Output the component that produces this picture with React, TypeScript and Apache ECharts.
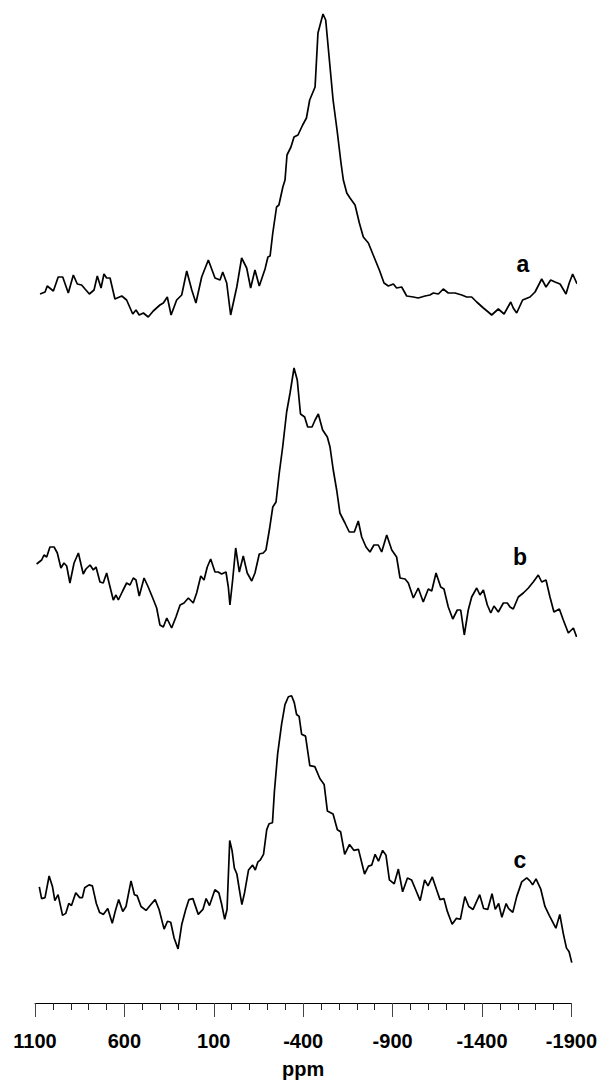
import React, { useEffect, useRef } from "react";
import * as echarts from "echarts";

// Chemical shift (ppm) and intensity (arbitrary units)
const ppmA = [1072, 1044, 1032, 998, 971, 946, 915, 887, 865, 841, 822, 798, 772, 754, 733, 717, 702, 683, 656, 618, 591, 557, 539, 521, 498, 471, 443, 406, 387, 365, 344, 313, 285, 257, 229, 206, 174, 137, 100, 72, 57, 35, 13, -21, -48, -76, -98, -122, -146, -178, -194, -206, -221, -242, -255, -277, -289, -300, -322, -339, -361, -387, -408, -426, -456, -472, -500, -515, -556, -578, -600, -613, -632, -650, -678, -702, -724, -752, -779, -813, -839, -863, -891, -909, -937, -965, -1002, -1029, -1067, -1094, -1113, -1141, -1168, -1196, -1233, -1271, -1298, -1326, -1354, -1391, -1418, -1437, -1474, -1506, -1543, -1557, -1576, -1609, -1650, -1678, -1715, -1739, -1765, -1789, -1817, -1850, -1868, -1887, -1909, -1918];
const intA = [26, 28, 34, 29, 43, 43, 27, 45, 36, 35, 31, 26, 30, 44, 32, 46, 42, 42, 21, 24, 20, 6, 10, 5, 7, 3, 9, 15, 17, 23, 5, 20, 25, 49, 30, 17, 43, 60, 42, 40, 48, 37, 5, 33, 62, 52, 32, 50, 34, 51, 63, 64, 87, 113, 115, 133, 140, 165, 173, 183, 185, 195, 202, 220, 233, 287, 306, 300, 220, 190, 157, 140, 127, 122, 115, 97, 83, 77, 65, 50, 37, 34, 36, 32, 33, 24, 23, 22, 24, 25, 27, 26, 31, 27, 27, 25, 23, 23, 18, 12, 8, 5, 11, 6, 18, 12, 7, 20, 23, 28, 41, 33, 40, 38, 36, 26, 37, 46, 37, 36];

const ppmB = [1091, 1063, 1050, 1035, 1017, 994, 976, 956, 939, 924, 906, 883, 859, 832, 817, 794, 776, 761, 739, 721, 702, 683, 665, 650, 637, 613, 591, 572, 554, 539, 521, 494, 471, 446, 424, 406, 387, 368, 341, 317, 294, 272, 248, 221, 202, 179, 161, 143, 124, 100, 82, 63, 39, 26, 17, 2, -15, -35, -57, -79, -104, -122, -146, -168, -183, -202, -221, -239, -257, -276, -298, -317, -339, -357, -375, -398, -415, -439, -456, -474, -498, -524, -539, -557, -576, -594, -622, -646, -674, -696, -715, -739, -761, -783, -807, -826, -854, -882, -909, -928, -956, -974, -1002, -1029, -1057, -1085, -1104, -1128, -1154, -1172, -1196, -1221, -1246, -1265, -1285, -1307, -1326, -1354, -1372, -1391, -1413, -1432, -1450, -1474, -1502, -1524, -1539, -1557, -1585, -1613, -1641, -1668, -1696, -1715, -1739, -1761, -1783, -1813, -1835, -1863, -1891, -1909];
const intB = [86, 90, 95, 93, 103, 103, 97, 82, 87, 84, 67, 87, 97, 76, 81, 85, 80, 83, 68, 67, 77, 63, 50, 55, 50, 59, 67, 65, 72, 70, 54, 72, 63, 52, 42, 25, 23, 32, 22, 33, 45, 47, 52, 47, 57, 74, 70, 83, 91, 78, 78, 76, 78, 63, 45, 70, 102, 78, 94, 77, 69, 77, 96, 97, 100, 120, 143, 148, 177, 203, 238, 257, 282, 270, 236, 233, 223, 223, 230, 236, 220, 213, 203, 180, 160, 137, 127, 118, 118, 129, 113, 103, 98, 105, 105, 98, 115, 100, 93, 72, 71, 67, 52, 62, 48, 61, 59, 77, 63, 61, 43, 31, 40, 40, 15, 40, 53, 62, 55, 60, 45, 37, 44, 38, 47, 47, 43, 41, 53, 57, 62, 68, 75, 68, 70, 53, 38, 41, 30, 17, 22, 13];

const ppmC = [1076, 1063, 1044, 1021, 1002, 989, 971, 946, 928, 911, 896, 872, 850, 835, 822, 798, 779, 757, 739, 717, 693, 668, 650, 632, 609, 591, 563, 544, 529, 507, 479, 452, 428, 406, 378, 359, 341, 322, 300, 279, 257, 239, 217, 187, 161, 143, 124, 94, 72, 57, 39, 26, 11, -2, -15, -29, -43, -57, -72, -94, -117, -132, -146, -159, -178, -196, -209, -228, -239, -257, -279, -298, -317, -335, -350, -363, -377, -391, -413, -437, -465, -493, -517, -535, -567, -591, -609, -632, -659, -683, -709, -743, -765, -783, -802, -821, -844, -863, -882, -909, -932, -956, -983, -1006, -1029, -1054, -1079, -1098, -1122, -1146, -1165, -1187, -1206, -1233, -1257, -1279, -1304, -1326, -1350, -1387, -1409, -1432, -1456, -1474, -1493, -1511, -1535, -1548, -1572, -1594, -1622, -1650, -1668, -1683, -1702, -1728, -1752, -1776, -1813, -1835, -1854, -1872, -1887, -1902];
const intC = [118, 106, 107, 129, 118, 104, 110, 89, 91, 101, 99, 112, 107, 107, 117, 120, 119, 101, 92, 90, 96, 81, 94, 105, 93, 98, 124, 110, 109, 98, 94, 100, 105, 95, 75, 83, 82, 66, 55, 80, 95, 105, 106, 90, 95, 106, 99, 115, 112, 101, 85, 95, 165, 155, 137, 131, 115, 100, 112, 135, 140, 135, 143, 145, 151, 176, 182, 183, 215, 253, 283, 303, 311, 312, 305, 293, 291, 273, 271, 241, 240, 228, 222, 195, 192, 176, 174, 151, 161, 155, 156, 131, 139, 140, 151, 144, 155, 150, 125, 121, 136, 113, 127, 125, 115, 104, 125, 119, 128, 115, 105, 106, 93, 80, 86, 85, 108, 98, 95, 110, 96, 95, 111, 95, 101, 87, 101, 96, 92, 108, 123, 127, 124, 120, 126, 116, 98, 89, 76, 90, 71, 56, 52, 41];

const traceLabels = ["a", "b", "c"];
const tickLabelMin = -1900;
const tickLabelMax = 1100;
const tickStep = 500;
const axisName = "ppm";

const FONT = "'Liberation Sans', Arial, Helvetica, sans-serif";

function pairs(xs: number[], ys: number[]) {
  return xs.map((x, i) => [x, ys[i]]);
}

export default function App() {
  const ref = useRef<HTMLDivElement>(null);
  useEffect(() => {
    if (!ref.current) return;
    const chart = echarts.init(ref.current, null, { renderer: "svg" });
    const grids = [
      { left: 35, width: 540, top: 10, height: 310 },
      { left: 35, width: 540, top: 330, height: 320 },
      { left: 35, width: 540, top: 680, height: 328 },
    ];
    const xAxisBase = {
      type: "value",
      min: tickLabelMin,
      max: tickLabelMax,
      inverse: true,
      interval: tickStep,
      splitLine: { show: false },
    };
    const option = {
      animation: false,
      backgroundColor: "#ffffff",
      grid: grids,
      xAxis: [
        { ...xAxisBase, gridIndex: 0, show: false },
        { ...xAxisBase, gridIndex: 1, show: false },
        {
          ...xAxisBase,
          gridIndex: 2,
          show: true,
          position: "bottom",
          name: axisName,
          nameLocation: "middle",
          nameGap: 56,
          nameTextStyle: { fontFamily: FONT, fontWeight: "bold", fontSize: 20, color: "#000" },
          axisLine: { show: true, lineStyle: { color: "#000", width: 1 } },
          axisTick: { show: true, length: 14, inside: false, lineStyle: { color: "#444", width: 1 } },
          minorTick: { show: true, splitNumber: 5, length: 7, lineStyle: { color: "#222", width: 1 } },
          minorSplitLine: { show: false },
          axisLabel: {
            show: true,
            margin: 28,
            showMinLabel: true,
            showMaxLabel: true,
            formatter: (v: number) => String(v),
            fontFamily: FONT,
            fontWeight: "bold",
            fontSize: 20,
            color: "#000",
          },
        },
      ],
      yAxis: [
        { type: "value", gridIndex: 0, min: 0, max: 310, show: false, splitLine: { show: false } },
        { type: "value", gridIndex: 1, min: 0, max: 320, show: false, splitLine: { show: false } },
        { type: "value", gridIndex: 2, min: 0, max: 328, show: false, splitLine: { show: false } },
      ],
      series: [
        [ppmA, intA],
        [ppmB, intB],
        [ppmC, intC],
      ].map(([xs, ys], i) => ({
        type: "line",
        name: traceLabels[i],
        xAxisIndex: i,
        yAxisIndex: i,
        data: pairs(xs, ys),
        showSymbol: false,
        symbol: "none",
        clip: false,
        smooth: false,
        lineStyle: { color: "#000", width: 1.7 },
        silent: true,
      })),
      graphic: [
        { x: 523, y: 264 },
        { x: 520, y: 557 },
        { x: 520, y: 860 },
      ].map((p, i) => ({
        type: "text",
        x: p.x,
        y: p.y,
        style: {
          text: traceLabels[i],
          fontFamily: FONT,
          fontWeight: "bold",
          fontSize: 23,
          fill: "#000",
          textAlign: "center",
          textVerticalAlign: "middle",
        },
      })),
    };
    chart.setOption(option as any);
    return () => chart.dispose();
  }, []);
  return (
    <div
      ref={ref}
      style={{ position: "absolute", left: 0, top: 0, width: 600, height: 1080, background: "#fff" }}
    />
  );
}
